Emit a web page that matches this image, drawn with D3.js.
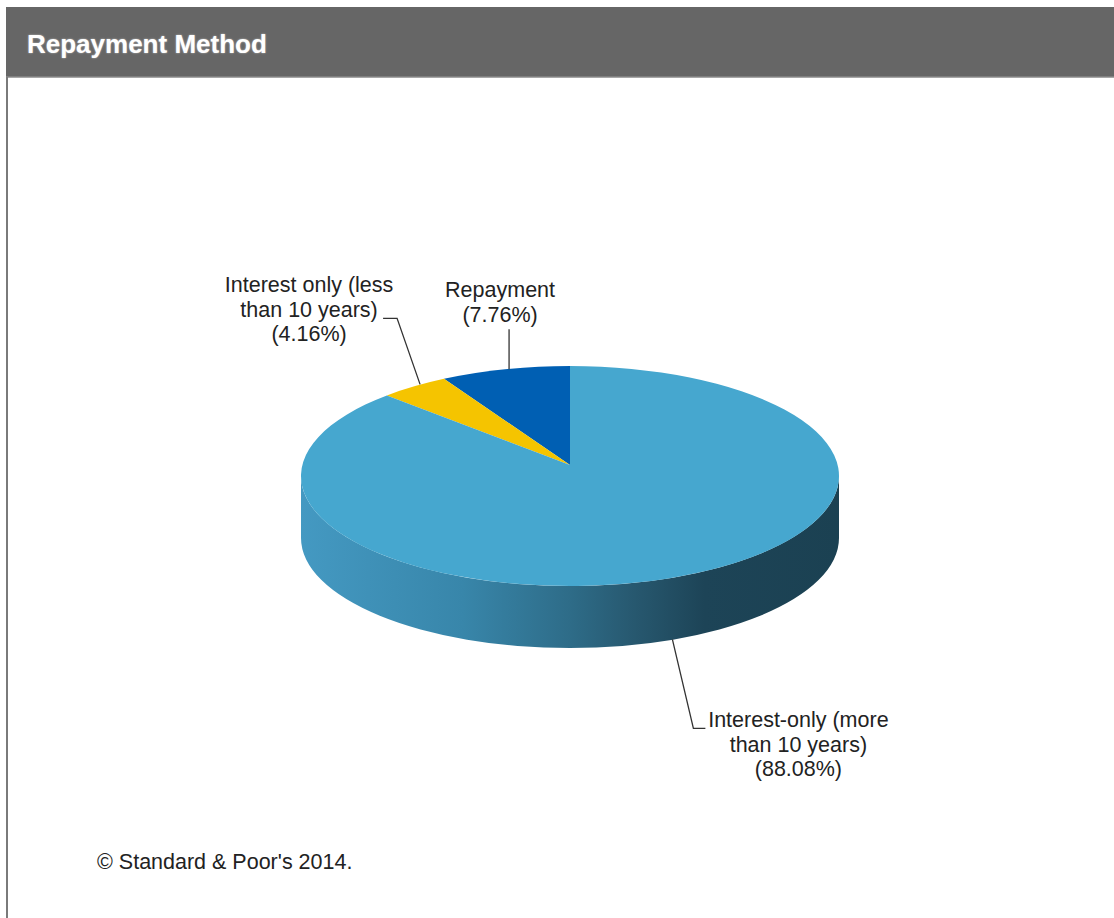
<!DOCTYPE html>
<html>
<head>
<meta charset="utf-8">
<script src="https://cdn.jsdelivr.net/npm/d3@7"></script>
<style>
  html, body { margin: 0; padding: 0; background: #fff; }
  svg { display: block; }
  text { font-family: "Liberation Sans", Arial, sans-serif; }
</style>
</head>
<body>
<svg id="chart" width="1114" height="918"></svg>
<script>
// ---- Data ----
const title = "Repayment Method";
const categories = ["Repayment", "Interest only (less than 10 years)", "Interest-only (more than 10 years)"];
const values = [7.76, 4.16, 88.08];
const labelLines = [
  ["Repayment", "(7.76%)"],
  ["Interest only (less", "than 10 years)", "(4.16%)"],
  ["Interest-only (more", "than 10 years)", "(88.08%)"]
];
const colors = ["#005FB3", "#F5C400", "#46A7CF"];
const source = "\u00A9 Standard & Poor's 2014.";

// ---- Layout ----
const W = 1114, H = 918;
const cx = 570, cy = 476, rx = 269, ry = 110, depth = 62;
const apex = [570, 465];

const svg = d3.select("#chart");
const defs = svg.append("defs");

// header bar
svg.append("rect").attr("x", 6).attr("y", 7).attr("width", W - 6).attr("height", 70).attr("fill", "#666666");
svg.append("line").attr("x1", 6).attr("x2", W).attr("y1", 77).attr("y2", 77).attr("stroke", "#8a8a8a").attr("stroke-width", 1.5);
svg.append("line").attr("x1", 7).attr("x2", 7).attr("y1", 77).attr("y2", H).attr("stroke", "#7a7a7a").attr("stroke-width", 2);

svg.append("text").attr("x", 27).attr("y", 53)
  .attr("fill", "#ffffff").attr("font-weight", "bold").attr("font-size", 26)
  .style("text-shadow", "0 0 2px rgba(255,255,255,0.6)")
  .text(title);

// side gradient
const grad = defs.append("linearGradient").attr("id", "sideGrad")
  .attr("gradientUnits", "userSpaceOnUse")
  .attr("x1", cx - rx).attr("x2", cx + rx).attr("y1", 0).attr("y2", 0);
[[0, "#4499C2"], [0.3, "#3886AA"], [0.5, "#2E6C88"], [0.62, "#27586F"], [0.75, "#1D4457"], [1, "#1B4152"]]
  .forEach(([o, c]) => grad.append("stop").attr("offset", o).attr("stop-color", c));

// pie angles (counter-clockwise from 12 o'clock)
const pie = d3.pie().sort(null).startAngle(0).endAngle(-2 * Math.PI);
const arcs = pie(values);

const pt = (a, yc) => [cx + rx * Math.sin(a), (yc === undefined ? cy : yc) - ry * Math.cos(a)];

// side wall (front half is all the large slice)
const sidePath = `M${cx - rx},${cy} A${rx},${ry} 0 0 0 ${cx + rx},${cy} L${cx + rx},${cy + depth} A${rx},${ry} 0 0 1 ${cx - rx},${cy + depth} Z`;
svg.append("path").attr("d", sidePath).attr("fill", "url(#sideGrad)");

// top faces
svg.append("g").selectAll("path").data(arcs).join("path")
  .attr("d", d => {
    const p0 = pt(d.startAngle), p1 = pt(d.endAngle);
    const large = Math.abs(d.endAngle - d.startAngle) > Math.PI ? 1 : 0;
    return `M${apex[0]},${apex[1]} L${p0[0]},${p0[1]} A${rx},${ry} 0 ${large} 0 ${p1[0]},${p1[1]} Z`;
  })
  .attr("fill", (d, i) => colors[i]);

// labels with leader lines
const lineH = 24.5;
const lbl = svg.append("g").attr("font-size", 21.5).attr("fill", "#222");

function leader(points) {
  svg.append("path").attr("d", d3.line()(points)).attr("fill", "none")
    .attr("stroke", "#333").attr("stroke-width", 1.3);
}
function mid(d) { return (d.startAngle + d.endAngle) / 2; }

// Repayment
{
  const p = pt(mid(arcs[0]));
  const top = [p[0] + 4, p[1] - 40];
  leader([[p[0] + 4, p[1]], top]);
  const t = lbl.append("text").attr("text-anchor", "middle");
  labelLines[0].forEach((s, k) => t.append("tspan").attr("x", top[0] - 9).attr("y", top[1] - 32 + k * lineH).text(s));
}
// Interest only (less)
{
  const p = pt(mid(arcs[1]));
  const p2 = [p[0] - 17, p[1] - 68];
  const p3 = [p2[0] - 14, p2[1]];
  leader([[p[0] + 6, p[1] - 2], p2, p3]);
  const t = lbl.append("text").attr("text-anchor", "middle");
  labelLines[1].forEach((s, k) => t.append("tspan").attr("x", p3[0] - 74).attr("y", p3[1] - 26 + k * lineH).text(s));
}
// Interest-only (more)
{
  const p = pt(mid(arcs[2]), cy + depth);
  const p2 = [p[0] + 25, p[1] + 88];
  const p3 = [p2[0] + 12, p2[1]];
  leader([[p[0] + 4, p[1] - 1], p2, p3]);
  const t = lbl.append("text").attr("text-anchor", "middle");
  labelLines[2].forEach((s, k) => t.append("tspan").attr("x", p3[0] + 93).attr("y", p3[1] - 1 + k * lineH).text(s));
}

// source
svg.append("text").attr("x", 97).attr("y", 869).attr("font-size", 21.5).attr("fill", "#222").text(source);
</script>
</body>
</html>
